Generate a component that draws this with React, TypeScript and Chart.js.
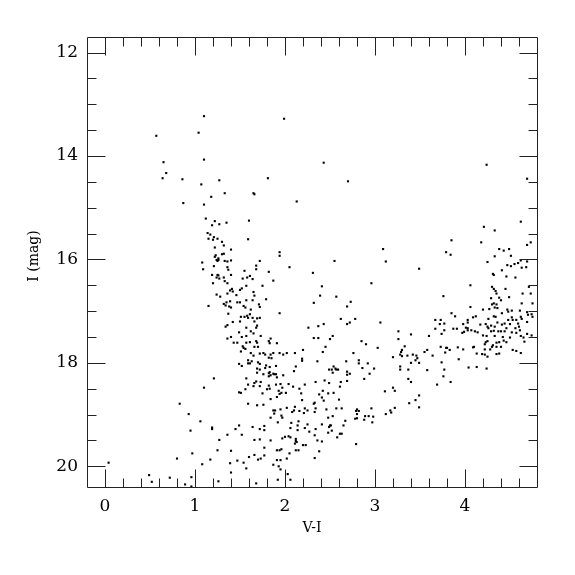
import React, { useEffect, useRef } from "react";
import { Chart, registerables } from "chart.js";

Chart.register(...registerables);

// V-I colour, I magnitude pairs, grouped by region
const brightStars: [number, number][] = [
  [1.10,13.23],[1.99,13.28],[0.57,13.61],[1.04,13.55],[0.65,14.12],[1.10,14.07],[0.68,14.33],[0.64,14.43],
  [0.86,14.45],[1.27,14.47],[1.81,14.43],[1.07,14.55],[2.43,14.13],[2.70,14.49],[4.24,14.17],[4.69,14.44],[0.87,14.91],
];

const giantSequence: [number, number][] = [
  [1.18,14.79],[1.33,14.72],[1.65,14.72],[1.66,14.74],[1.10,14.94],[2.13,14.88],[1.12,15.21],[1.22,15.26],[1.19,15.34],
  [1.27,15.32],[1.35,15.29],[1.60,15.25],[1.14,15.49],[1.17,15.52],[1.21,15.57],[1.15,15.60],[1.20,15.62],[1.25,15.60],
  [1.30,15.66],[1.32,15.73],[1.59,15.61],[1.22,15.77],[1.40,15.81],[1.94,15.86],[1.94,15.93],[1.23,15.92],[1.22,15.95],
  [1.30,15.90],[1.32,15.89],[1.26,15.98],[1.24,16.01],[1.26,16.01],[1.25,16.03],[1.33,16.03],[1.36,16.04],[1.40,16.02],
  [1.72,16.03],[1.08,16.06],[1.21,16.13],[1.68,16.12],[1.68,16.19],[2.05,16.15],[1.09,16.19],[1.36,16.15],[1.37,16.20],
  [1.55,16.22],[1.82,16.24],[1.19,16.30],[1.25,16.30],[1.26,16.31],[1.24,16.35],[1.27,16.37],[1.32,16.35],[1.40,16.30],
  [1.61,16.32],[1.58,16.35],[1.64,16.38],[1.53,16.37],[1.33,16.42],[1.20,16.46],[1.36,16.46],[1.87,16.41],[1.57,16.51],
  [1.75,16.51],[1.41,16.57],[1.39,16.60],[1.52,16.56],[1.50,16.59],[1.42,16.62],[1.65,16.63],[1.66,16.70],[1.24,16.68],
  [1.36,16.66],[1.28,16.72],[1.46,16.69],[1.15,16.90],[1.35,16.83],[1.32,16.86],[1.34,16.89],[1.39,16.81],[1.47,16.83],
  [1.50,16.83],[1.57,16.79],[1.64,16.79],[1.79,16.77],[1.38,16.91],[1.40,16.93],[1.54,16.90],[1.56,16.93],[1.71,16.87],
  [1.72,16.92],[1.62,16.97],[1.37,17.05],[1.94,17.04],[1.51,17.11],[1.55,17.11],[1.58,17.09],[1.61,17.06],[1.59,17.13],
  [1.64,17.13],[1.69,17.14],[1.72,17.13],[1.42,17.21],[1.50,17.20],[1.66,17.20],[1.34,17.30],[1.36,17.27],[1.57,17.32],
  [1.69,17.28],[1.68,17.32],[2.26,17.32],[1.49,17.41],[1.62,17.39],[1.65,17.43],[1.73,17.48],[1.36,17.53],[1.40,17.50],
  [1.52,17.50],[1.57,17.48],[1.84,17.53],
];

const middleStars: [number, number][] = [
  [3.09,15.80],[2.55,16.03],[3.12,16.04],[2.31,16.26],[3.49,16.18],[2.96,16.46],[2.41,16.52],[2.39,16.70],[2.57,16.72],
  [2.32,16.84],[2.73,16.82],[2.69,16.91],[2.62,17.15],[2.78,17.15],[2.37,17.29],[2.43,17.25],[2.69,17.25],[2.72,17.22],
  [3.06,17.22],[3.26,17.39],[3.40,17.45],[2.53,17.48],[2.32,17.52],[2.37,17.52],[2.50,17.54],[3.26,17.54],
];

const redStars: [number, number][] = [
  [4.62,15.27],[4.21,15.37],[4.33,15.44],[3.85,15.63],[4.18,15.67],[4.73,15.67],[4.69,15.72],[3.79,15.86],[3.84,15.91],
  [4.38,15.80],[4.43,15.83],[4.49,15.80],[4.51,15.93],[4.33,15.94],[4.25,16.05],[4.62,16.02],[4.69,16.04],[4.47,16.11],
  [4.51,16.13],[4.55,16.09],[4.59,16.07],[4.63,16.16],[4.68,16.15],[4.41,16.21],[4.31,16.28],[4.32,16.30],[4.46,16.33],
  [4.56,16.35],[4.06,16.50],[4.30,16.53],[4.32,16.57],[4.45,16.57],[4.34,16.61],[4.35,16.66],[4.71,16.53],[4.64,16.66],
  [4.73,16.66],[3.76,16.71],[4.29,16.75],[4.38,16.74],[4.49,16.73],[4.40,16.79],[4.32,16.85],[4.30,16.87],[4.35,16.87],
  [4.63,16.85],[4.75,16.85],[4.06,16.92],[4.33,16.93],[4.36,16.94],[4.20,16.97],[4.27,16.96],[4.47,16.97],[4.48,17.01],
  [4.52,16.99],[4.41,17.04],[4.61,16.99],[4.69,17.02],[3.85,17.04],[3.89,17.10],[4.09,17.12],[4.12,17.10],[4.26,17.15],
  [4.32,17.10],[4.34,17.11],[4.52,17.12],[4.53,17.17],[4.48,17.17],[4.57,17.17],[4.62,17.11],[4.70,17.07],[4.74,17.06],
  [4.75,17.11],[3.67,17.17],[3.73,17.17],[3.72,17.25],[3.77,17.24],[4.03,17.17],[4.03,17.22],[3.98,17.25],[4.17,17.26],
  [4.23,17.25],[4.25,17.30],[4.29,17.28],[4.33,17.30],[4.36,17.22],[4.41,17.26],[4.44,17.24],[4.50,17.25],[4.46,17.33],
  [4.56,17.33],[4.59,17.24],[4.60,17.30],[4.63,17.15],[4.69,17.21],[3.67,17.34],[3.77,17.37],[3.74,17.44],[3.87,17.34],
  [3.91,17.34],[4.01,17.32],[4.03,17.33],[4.03,17.37],[3.99,17.40],[3.97,17.42],[4.07,17.37],[4.11,17.39],[4.14,17.41],
  [4.20,17.47],[4.24,17.48],[4.26,17.33],[4.29,17.39],[4.32,17.38],[4.33,17.48],[4.37,17.39],[4.40,17.39],[4.44,17.39],
  [4.52,17.41],[4.57,17.42],[4.61,17.37],[4.62,17.48],[4.65,17.51],[4.69,17.44],[4.74,17.47],[3.60,17.48],[4.42,17.50],
  [4.50,17.51],
];

const faintStars: [number, number][] = [
  [0.83,18.79],[0.93,18.99],[0.95,19.31],[0.80,19.85],[0.97,19.75],[0.04,19.93],[0.49,20.17],[0.52,20.30],[0.72,20.22],
  [0.96,20.21],[0.89,20.35],[0.96,20.39],
  [1.43,17.61],[1.47,17.61],[1.57,17.61],[1.61,17.60],[1.68,17.58],[1.69,17.61],[1.82,17.58],[1.83,17.62],[1.91,17.62],
  [1.53,17.68],[1.54,17.71],[1.56,17.73],[1.66,17.69],[1.70,17.69],[1.51,17.78],[1.62,17.81],[1.65,17.86],[1.72,17.82],
  [1.76,17.81],[1.78,17.84],[1.84,17.84],[1.87,17.81],[1.94,17.81],[1.98,17.84],[2.02,17.81],[2.11,17.81],[2.20,17.75],
  [2.19,17.92],[2.19,17.96],[1.82,17.90],[1.85,17.91],[1.59,17.95],[1.63,17.97],[1.61,18.01],[1.59,18.01],[1.70,17.99],
  [1.72,18.02],[1.49,18.02],[1.52,18.06],[1.79,18.05],[1.83,18.08],[1.90,18.06],[1.78,18.10],[1.69,18.11],[1.72,18.13],
  [1.69,18.19],[1.76,18.22],[1.82,18.20],[1.83,18.18],[1.87,18.21],[1.88,18.22],[1.90,18.22],[1.84,18.24],[1.82,18.26],
  [1.91,18.28],[1.98,18.24],[1.57,18.30],[2.10,18.16],[2.12,18.07],[1.21,18.30],[1.66,18.39],[1.68,18.36],[1.73,18.37],
  [1.59,18.42],[1.65,18.45],[1.72,18.45],[1.82,18.44],[1.90,18.42],[1.95,18.41],[1.97,18.48],[2.04,18.41],[2.09,18.46],
  [2.22,18.42],[1.10,18.48],[1.80,18.51],[1.83,18.50],[1.56,18.51],[1.93,18.54],[2.16,18.50],[1.49,18.57],[1.51,18.58],
  [1.75,18.59],[1.94,18.60],[1.96,18.58],[2.01,18.58],[2.18,18.59],[1.91,18.66],[1.84,18.70],[2.19,18.72],[1.59,18.79],
  [1.69,18.82],[1.76,18.81],[2.11,18.85],[2.10,18.92],[1.87,18.92],[1.89,18.92],[1.95,18.90],[2.02,18.87],[2.08,18.95],
  [2.16,18.93],[2.22,18.88],[2.25,18.92],[2.21,18.97],[1.88,18.98],[1.96,19.02],[1.97,19.06],[1.84,19.06],[1.92,19.15],
  [2.07,19.16],[2.15,19.13],[2.14,19.21],[2.25,19.19],[1.06,19.13],[1.19,19.25],[1.19,19.28],[1.45,19.28],[1.49,19.21],
  [1.64,19.24],[1.72,19.28],[1.77,19.22],[1.77,19.30],[2.06,19.26],[2.14,19.30],[2.22,19.26],[2.27,19.33],[1.36,19.39],
  [1.52,19.39],[1.97,19.46],[2.00,19.43],[2.04,19.42],[2.06,19.44],[2.12,19.47],[2.12,19.51],[2.13,19.53],[2.11,19.56],
  [1.27,19.49],[1.66,19.49],[1.72,19.48],[1.84,19.50],[1.77,19.64],[1.25,19.69],[1.40,19.70],[1.91,19.69],[1.94,19.69],
  [1.96,19.67],[2.12,19.69],[2.15,19.69],[2.20,19.59],[2.23,19.59],[2.05,19.75],[1.66,19.78],[1.60,19.82],[1.70,19.87],
  [1.73,19.85],[1.77,19.79],[2.02,19.85],[1.17,19.87],[1.47,19.89],[1.54,19.93],[1.91,19.88],[1.95,19.88],[1.08,19.96],
  [1.39,19.94],[1.87,19.97],[1.93,20.00],[1.57,20.04],[1.95,20.06],[1.40,20.12],[2.03,20.15],[1.92,20.26],[2.06,20.26],
  [1.26,20.29],[1.68,20.33],
];

const lowerMiddleStars: [number, number][] = [
  [2.45,17.69],[2.42,17.79],[2.36,17.97],[2.85,17.58],[2.90,17.64],[3.03,17.71],[2.76,17.81],[2.68,17.97],[2.82,17.95],
  [2.82,18.01],[2.92,18.01],[2.86,18.10],[2.99,18.11],[2.94,18.21],[2.88,18.31],[2.54,18.07],[2.56,18.11],[2.49,18.13],
  [2.52,18.13],[2.57,18.13],[2.59,18.13],[2.53,18.19],[2.69,18.17],[2.72,18.21],[2.69,18.23],[2.69,18.35],[2.62,18.37],
  [2.44,18.34],[2.49,18.39],[2.34,18.37],[2.61,18.46],[2.42,18.54],[2.38,18.61],[2.48,18.59],[2.54,18.58],[2.41,18.67],
  [2.43,18.73],[2.60,18.71],[2.33,18.77],[2.32,18.79],[2.34,18.88],[2.46,18.90],[2.57,18.88],[2.63,18.88],[2.33,18.95],
  [2.80,18.90],[2.79,18.93],[2.82,18.93],[2.80,18.99],[2.96,18.88],[2.78,19.08],[2.80,19.07],[2.89,19.03],[2.93,19.03],
  [2.98,19.04],[2.88,19.10],[2.97,19.15],[2.48,19.06],[2.53,19.03],[2.67,19.12],[2.41,19.19],[2.50,19.21],[2.51,19.21],
  [2.49,19.24],[2.65,19.21],[2.52,19.31],[2.48,19.35],[2.61,19.37],[2.63,19.37],[2.58,19.44],[2.34,19.28],[2.33,19.40],
  [2.36,19.50],[2.41,19.52],[2.79,19.57],[2.38,19.71],[2.33,19.84],
  [3.33,17.68],[3.30,17.75],[3.29,17.79],[3.28,17.84],[3.36,17.86],[3.20,17.89],[3.30,17.87],[3.42,17.84],[3.46,17.86],
  [3.47,17.91],[3.45,17.95],[3.49,18.00],[3.40,18.00],[3.55,17.79],[3.28,18.07],[3.28,18.13],[3.37,18.13],[3.37,18.31],
  [3.40,18.37],[3.20,18.48],[3.22,18.54],[3.11,18.55],[3.49,18.63],[3.45,18.72],[3.38,18.78],[3.49,18.86],[3.22,18.87],
  [3.17,18.92],[3.18,18.96],[3.12,18.99],
];

const clumpStars: [number, number][] = [
  [3.58,17.75],[3.64,17.86],[3.58,18.14],[3.73,17.69],[3.79,17.71],[3.80,17.71],[3.83,17.75],[3.78,17.80],[3.92,17.70],
  [3.98,17.74],[4.09,17.70],[4.10,17.69],[4.13,17.82],[4.19,17.83],[4.22,17.84],[4.25,17.88],[4.22,17.74],[4.22,17.64],
  [4.23,17.60],[4.25,17.58],[4.28,17.74],[4.30,17.69],[4.31,17.66],[4.35,17.61],[4.35,17.69],[4.38,17.60],[4.40,17.69],
  [4.35,17.83],[4.38,17.82],[4.43,17.57],[4.46,17.60],[4.53,17.75],[4.57,17.77],[4.62,17.81],[4.66,17.59],[3.93,17.93],
  [3.74,17.99],[3.77,18.13],[3.76,18.26],[3.84,18.37],[3.69,18.42],[4.04,18.09],[4.13,18.08],[4.24,18.11],
];

const xTickValues = [0, 1, 2, 3, 4];
const yTickValues = [12, 14, 16, 18, 20];
const xTitle = "V-I";
const yTitle = "I (mag)";

const allStars = [
  ...brightStars, ...giantSequence, ...middleStars, ...redStars,
  ...faintStars, ...lowerMiddleStars, ...clumpStars,
];

const SERIF = '"DejaVu Serif", serif';

const framePlugin = {
  id: "frameTicks",
  afterDraw(chart: any) {
    const { ctx, chartArea: a, scales } = chart;
    const xs = scales.x, ys = scales.y;
    const L = Math.round(a.left) + 0.5, R = Math.round(a.right) + 0.5;
    const T = Math.round(a.top) + 0.5, B = Math.round(a.bottom) + 0.5;
    ctx.save();
    ctx.strokeStyle = "#222";
    ctx.lineWidth = 1;
    ctx.beginPath();
    ctx.rect(L, T, R - L, B - T);
    // x ticks every 0.2, major at integers
    for (let i = 0; i <= 23; i++) {
      const v = i * 0.2;
      const p = Math.round(xs.getPixelForValue(v)) + 0.5;
      const len = i % 5 === 0 ? 18 : 9;
      ctx.moveTo(p, B); ctx.lineTo(p, B - len);
      ctx.moveTo(p, T); ctx.lineTo(p, T + len);
    }
    for (let i = 0; i <= 16; i++) {
      const v = 12 + i * 0.5;
      const p = Math.round(ys.getPixelForValue(v)) + 0.5;
      const len = i % 4 === 0 ? 18 : 9;
      ctx.moveTo(L, p); ctx.lineTo(L + len, p);
      ctx.moveTo(R, p); ctx.lineTo(R - len, p);
    }
    ctx.stroke();
    ctx.fillStyle = "#000";
    ctx.font = `14px ${SERIF}`;
    ctx.textAlign = "center";
    ctx.textBaseline = "middle";
    ctx.fillText(xTitle, (a.left + a.right) / 2, 528);
    ctx.translate(34, 256);
    ctx.rotate(-Math.PI / 2);
    ctx.fillText(yTitle, 0, 0);
    ctx.restore();
  },
};

export default function App() {
  const ref = useRef<HTMLCanvasElement>(null);
  useEffect(() => {
    if (!ref.current) return;
    const chart = new Chart(ref.current, {
      type: "scatter",
      data: {
        datasets: [
          {
            data: allStars.map(([x, y]) => ({ x, y })),
            pointStyle: "rect",
            pointRadius: 1.5,
            backgroundColor: "#000",
            borderWidth: 0,
          },
        ],
      },
      options: {
        animation: false,
        responsive: false,
        events: [],
        layout: { padding: { left: 0, top: 37, right: 38, bottom: 0 } },
        plugins: { legend: { display: false }, tooltip: { enabled: false } },
        scales: {
          x: {
            type: "linear",
            min: -0.2,
            max: 4.8,
            grid: { display: false, drawTicks: false },
            border: { display: false },
            afterFit: (s: any) => { s.height = 88; },
            afterBuildTicks: (s: any) => { s.ticks = xTickValues.map((value) => ({ value })); },
            ticks: {
              autoSkip: false,
              includeBounds: false,
              padding: 9,
              color: "#000",
              font: { family: SERIF, size: 17 },
              callback: (v: any) => String(v),
            },
          },
          y: {
            type: "linear",
            reverse: true,
            min: 11.7,
            max: 20.4,
            grid: { display: false, drawTicks: false },
            border: { display: false },
            afterFit: (s: any) => { s.width = 87; },
            afterBuildTicks: (s: any) => { s.ticks = yTickValues.map((value) => ({ value })); },
            ticks: {
              autoSkip: false,
              includeBounds: false,
              padding: 9,
              color: "#000",
              font: { family: SERIF, size: 17 },
              callback: (v: any) => String(v),
            },
          },
        },
      },
      plugins: [framePlugin],
    });
    return () => chart.destroy();
  }, []);
  return (
    <div style={{ position: "absolute", left: 0, top: 0, width: 575, height: 575, background: "#fff" }}>
      <canvas ref={ref} width={575} height={575} style={{ width: 575, height: 575, display: "block" }} />
    </div>
  );
}
